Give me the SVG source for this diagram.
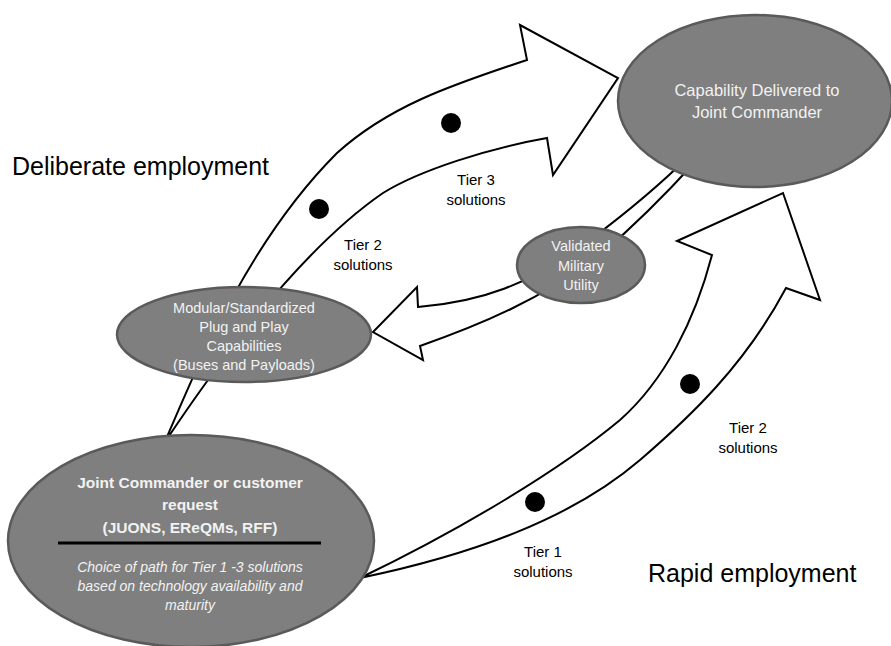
<svg xmlns="http://www.w3.org/2000/svg" width="891" height="646" viewBox="0 0 891 646">
<style>
.arrow{fill:#fff;stroke:#000;stroke-width:2;stroke-linejoin:miter}
.node{fill:#7f7f7f;stroke:#5a5a5a;stroke-width:2.5}
.nt{font-family:"Liberation Sans",Arial,sans-serif;fill:#f2f2f2;text-anchor:middle}
.lbl{font-family:"Liberation Sans",Arial,sans-serif;fill:#000;text-anchor:middle;font-size:15px}
.big{font-family:"Liberation Sans",Arial,sans-serif;fill:#000;font-size:25px}
.dot{fill:#000}
</style>
<rect width="891" height="646" fill="#fff"/>
<g id="connectors">
  <path id="deliberate-arrow" class="arrow" d="M167,437 C200,360 250,240 337,153 C388,107 448,86 527,60 L520,25 L618,78 L553,175 L547,138 C490,148 420,170 383,193 C300,250 220,360 169,436 Z"/>
  <path id="return-arrow" class="arrow" d="M690,155 C660,185 630,210 590,240 C530,285 480,302 418,307 L417,287 L373,332 L423,360 L420,346 C480,325 540,300 600,255 C635,225 665,195 695,162 Z"/>
  <path id="rapid-arrow" class="arrow" d="M360,578 C460,530 560,470 620,420 C665,380 695,320 712,255 L677,241 L783,193 L820,300 L786,288 C745,365 690,417 640,460 C570,520 470,555 360,578 Z"/>
  <circle class="dot" cx="451" cy="123" r="10"/>
  <circle class="dot" cx="319" cy="209" r="10"/>
  <circle class="dot" cx="690" cy="384" r="10"/>
  <circle class="dot" cx="535" cy="502" r="10"/>
</g>
<g id="node-capability">
  <ellipse class="node" cx="755" cy="101" rx="137" ry="86"/>
  <text class="nt" font-size="16.5" x="757" y="96">Capability Delivered to</text>
  <text class="nt" font-size="16.5" x="757" y="118">Joint Commander</text>
</g>
<g id="node-validated">
  <ellipse class="node" cx="581" cy="265" rx="64" ry="38"/>
  <text class="nt" font-size="14.5" x="581" y="251">Validated</text>
  <text class="nt" font-size="14.5" x="581" y="271">Military</text>
  <text class="nt" font-size="14.5" x="581" y="290">Utility</text>
</g>
<g id="node-modular">
  <ellipse class="node" cx="244" cy="334.5" rx="127" ry="47.5"/>
  <text class="nt" font-size="14.5" x="244" y="313">Modular/Standardized</text>
  <text class="nt" font-size="14.5" x="244" y="332">Plug and Play</text>
  <text class="nt" font-size="14.5" x="244" y="351">Capabilities</text>
  <text class="nt" font-size="14.5" x="244" y="370">(Buses and Payloads)</text>
</g>
<g id="node-request">
  <ellipse class="node" cx="191" cy="541" rx="183" ry="106"/>
  <text class="nt" font-size="15.5" font-weight="bold" fill="#fff" x="190" y="487.5">Joint Commander or customer</text>
  <text class="nt" font-size="15.5" font-weight="bold" x="190" y="509.5">request</text>
  <text class="nt" font-size="15.5" font-weight="bold" x="190" y="532.5">(JUONS, EReQMs, RFF)</text>
  <line x1="58" y1="543" x2="321" y2="543" stroke="#000" stroke-width="3"/>
  <text class="nt" font-size="14" font-style="italic" x="190" y="572">Choice of path for Tier 1 -3 solutions</text>
  <text class="nt" font-size="14" font-style="italic" x="190" y="591">based on technology availability and</text>
  <text class="nt" font-size="14" font-style="italic" x="190" y="610">maturity</text>
</g>
<g id="labels">
  <text class="big" x="12" y="175">Deliberate employment</text>
  <text class="big" x="648" y="582">Rapid employment</text>
  <text class="lbl" x="476" y="185">Tier 3</text>
  <text class="lbl" x="476" y="205">solutions</text>
  <text class="lbl" x="363" y="250">Tier 2</text>
  <text class="lbl" x="363" y="270">solutions</text>
  <text class="lbl" x="748" y="433">Tier 2</text>
  <text class="lbl" x="748" y="453">solutions</text>
  <text class="lbl" x="543" y="557">Tier 1</text>
  <text class="lbl" x="543" y="577">solutions</text>
</g>
</svg>
